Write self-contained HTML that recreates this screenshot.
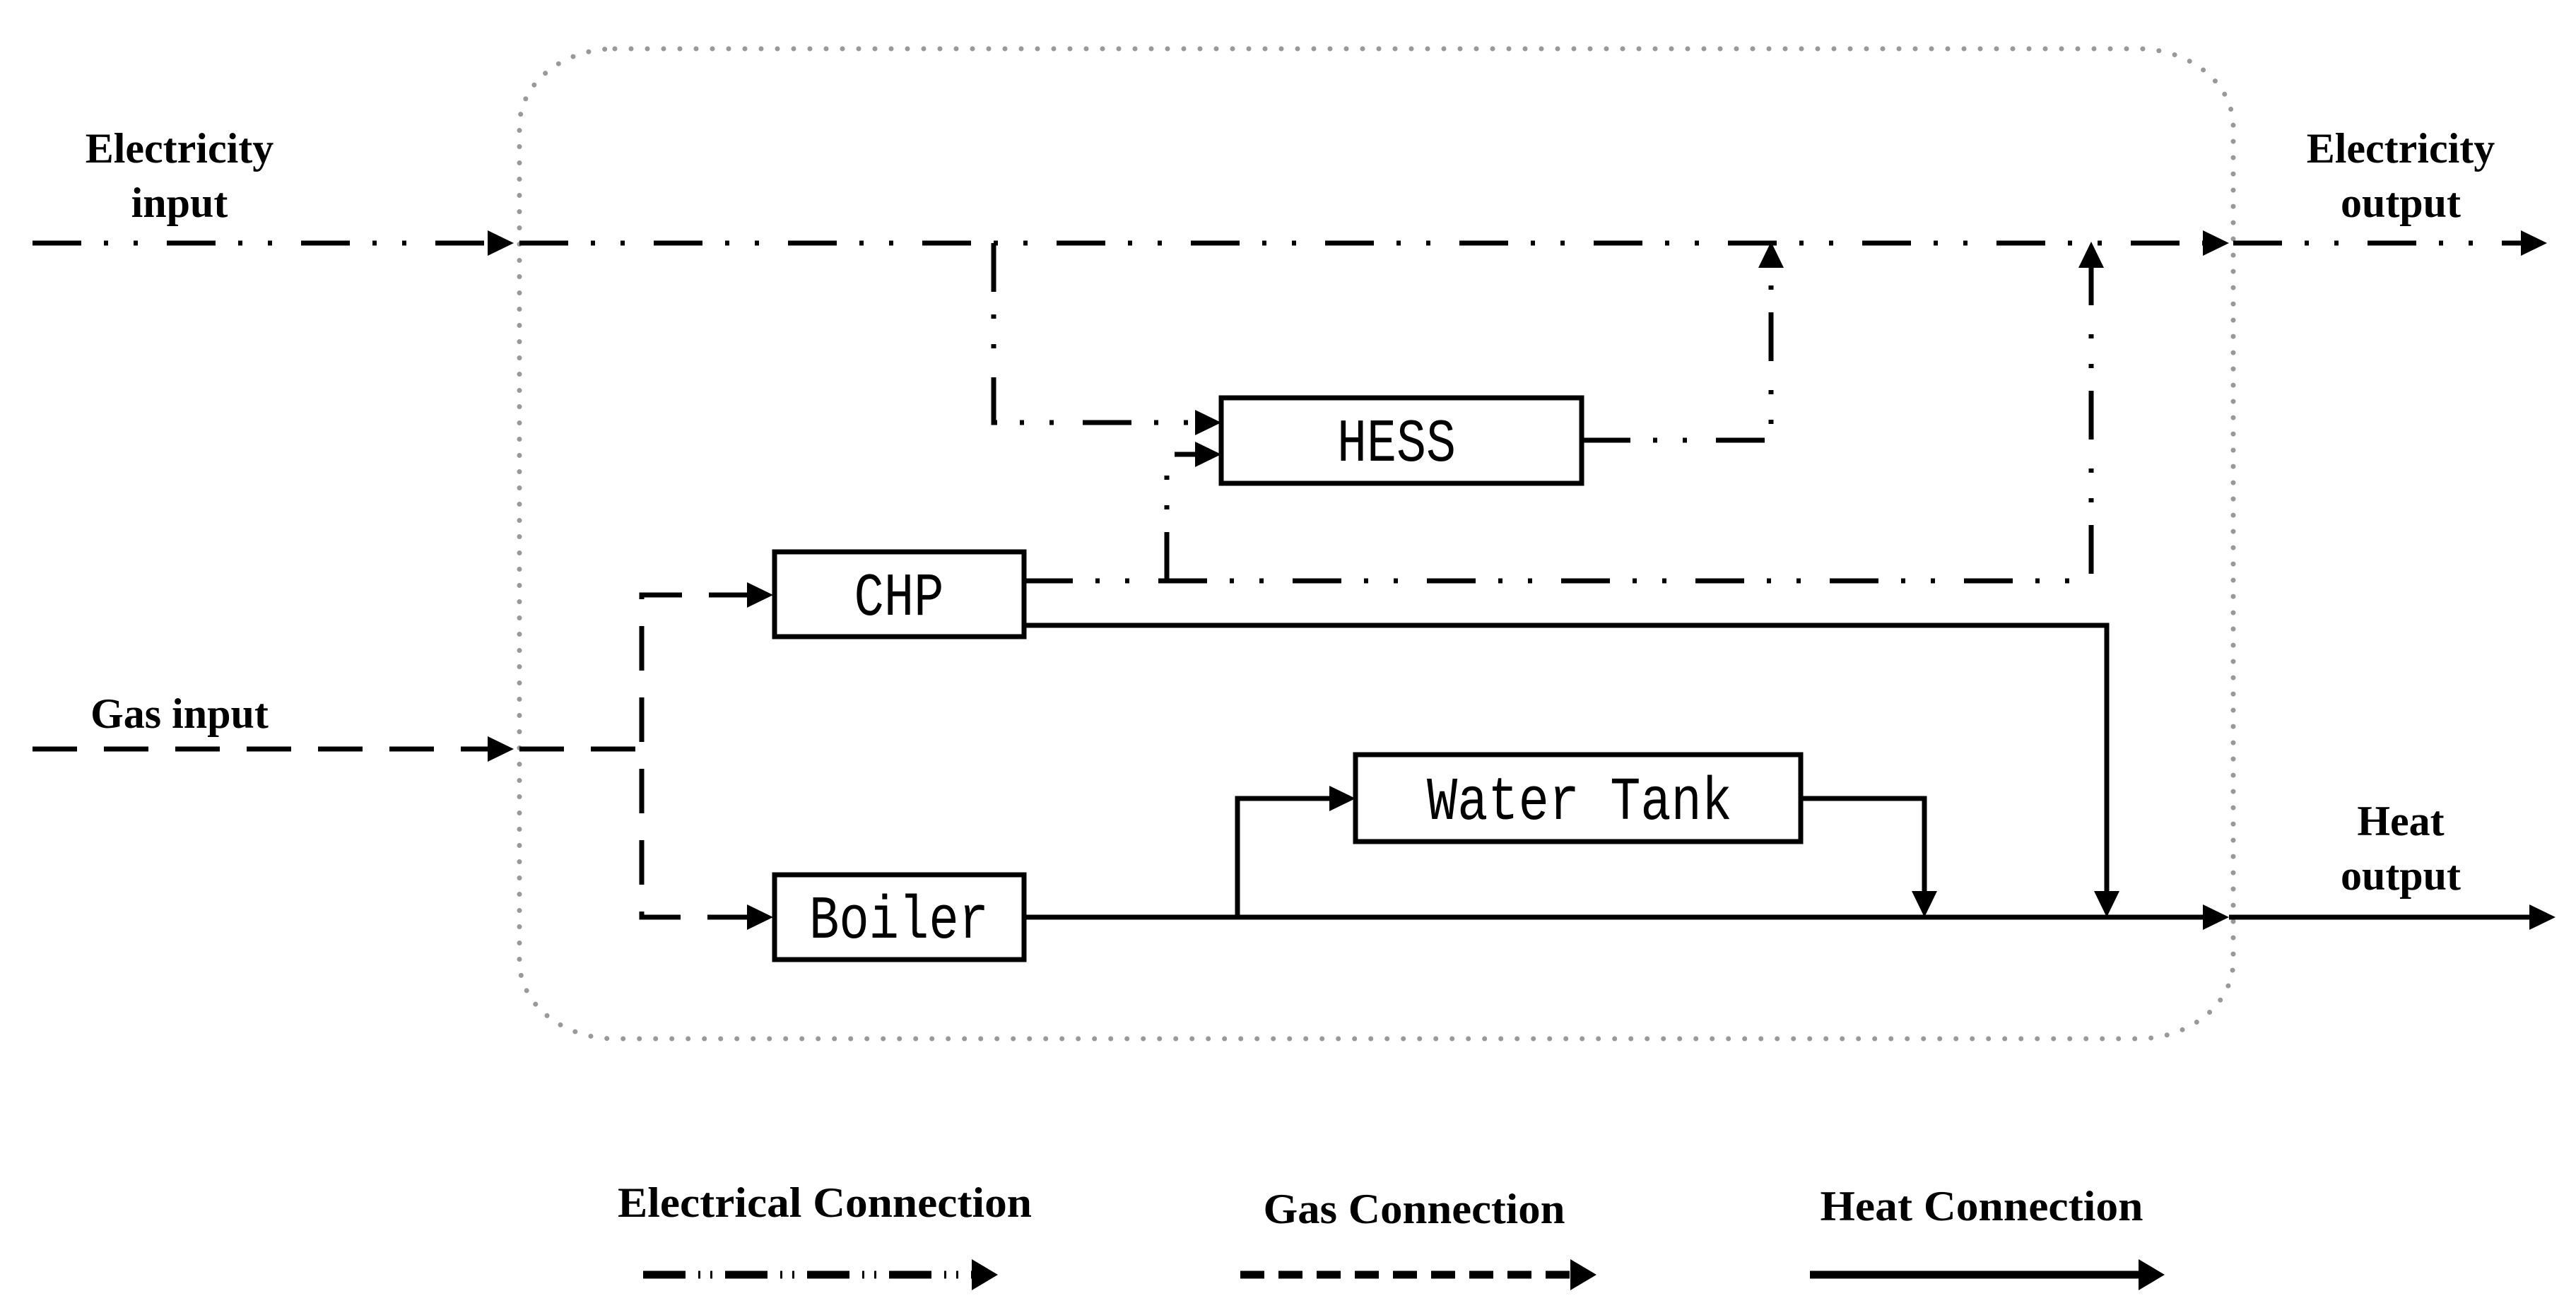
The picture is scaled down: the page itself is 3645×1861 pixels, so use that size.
<!DOCTYPE html>
<html><head><meta charset="utf-8"><style>
html,body{margin:0;padding:0;background:#fff;}
svg{display:block;}
.lbl{font-family:"Liberation Serif",serif;font-weight:bold;font-size:60px;fill:#000;}
.box{font-family:"Liberation Mono",monospace;font-size:86px;fill:#000;}
</style></head><body>
<svg width="3645" height="1861" viewBox="0 0 3645 1861" xmlns="http://www.w3.org/2000/svg">
<rect x="735" y="69" width="2425" height="1401" rx="135" ry="110" fill="none" stroke="#999" stroke-width="7" stroke-linecap="round" stroke-dasharray="0 23"/>

<g fill="none" stroke="#000" stroke-width="7">
<g stroke-dasharray="69 32 6 36 6 41">
<line x1="46" y1="344" x2="700" y2="344"/>
<line x1="735" y1="344" x2="3125" y2="344"/>
<line x1="3160" y1="344" x2="3575" y2="344"/>
<polyline points="1406,344 1406,598 1700,598"/>
<polyline points="1449,822 2959,822 2959,372"/>
<polyline points="1651,822 1651,643 1700,643"/>
<polyline points="2238,623 2506,623 2506,372"/>
</g>
<g stroke-dasharray="63 38">
<line x1="46" y1="1060" x2="700" y2="1060"/>
<polyline points="735,1060 908,1060"/>
<polyline points="1066,842 908,842 908,1298 1066,1298"/>
</g>
<polyline points="1449,885 2981,885 2981,1270"/>
<line x1="1449" y1="1298" x2="3125" y2="1298"/>
<line x1="3154" y1="1298" x2="3585" y2="1298"/>
<polyline points="1751,1298 1751,1130 1890,1130"/>
<polyline points="2548,1130 2723,1130 2723,1270"/>
</g>

<g fill="#fff" stroke="#000" stroke-width="7">
<rect x="1096" y="781" width="353" height="120"/>
<rect x="1096" y="1238" width="353" height="120"/>
<rect x="1728" y="563" width="510" height="121"/>
<rect x="1918" y="1068" width="630" height="123"/>
</g>
<text class="box" x="1272" y="870" text-anchor="middle" textLength="127" lengthAdjust="spacingAndGlyphs">CHP</text>
<text class="box" x="1272" y="1327" text-anchor="middle" textLength="254" lengthAdjust="spacingAndGlyphs">Boiler</text>
<text class="box" x="1976" y="652" text-anchor="middle" textLength="168" lengthAdjust="spacingAndGlyphs">HESS</text>
<text class="box" x="2235" y="1159" text-anchor="middle" textLength="432" lengthAdjust="spacingAndGlyphs">Water Tank</text>

<g fill="#000">
<polygon points="727,344 690,326 690,362"/>
<polygon points="3154,344 3117,326 3117,362"/>
<polygon points="3604,344 3567,326 3567,362"/>
<polygon points="727,1060 690,1042 690,1078"/>
<polygon points="1094,842 1057,824 1057,860"/>
<polygon points="1094,1298 1057,1280 1057,1316"/>
<polygon points="1728,598 1691,580 1691,616"/>
<polygon points="1728,643 1691,625 1691,661"/>
<polygon points="2959,342 2941,379 2977,379"/>
<polygon points="2506,342 2488,379 2524,379"/>
<polygon points="2981,1298 2963,1261 2999,1261"/>
<polygon points="2723,1298 2705,1261 2741,1261"/>
<polygon points="1918,1130 1881,1112 1881,1148"/>
<polygon points="3154,1298 3117,1280 3117,1316"/>
<polygon points="3616,1298 3579,1280 3579,1316"/>
</g>

<text class="lbl" x="254" y="230" text-anchor="middle">Electricity</text>
<text class="lbl" x="254" y="307" text-anchor="middle">input</text>
<text class="lbl" x="254" y="1030" text-anchor="middle">Gas input</text>
<text class="lbl" x="3397" y="230" text-anchor="middle">Electricity</text>
<text class="lbl" x="3397" y="307" text-anchor="middle">output</text>
<text class="lbl" x="3397" y="1182" text-anchor="middle">Heat</text>
<text class="lbl" x="3397" y="1259" text-anchor="middle">output</text>

<text class="lbl" x="1167" y="1722" text-anchor="middle" textLength="586" lengthAdjust="spacingAndGlyphs">Electrical Connection</text>
<text class="lbl" x="2001" y="1731" text-anchor="middle" textLength="427" lengthAdjust="spacingAndGlyphs">Gas Connection</text>
<text class="lbl" x="2804" y="1727" text-anchor="middle" textLength="457" lengthAdjust="spacingAndGlyphs">Heat Connection</text>
<g fill="none" stroke="#000" stroke-width="11">
<line x1="910" y1="1804" x2="1380" y2="1804" stroke-dasharray="60 18 3 14 3 18"/>
<line x1="1755" y1="1804" x2="2225" y2="1804" stroke-dasharray="34 20"/>
<line x1="2561" y1="1804" x2="3030" y2="1804"/>
</g>
<g fill="#000">
<polygon points="1412,1804 1375,1782 1375,1826"/>
<polygon points="2259,1804 2222,1782 2222,1826"/>
<polygon points="3063,1804 3026,1782 3026,1826"/>
</g>
</svg>
</body></html>
